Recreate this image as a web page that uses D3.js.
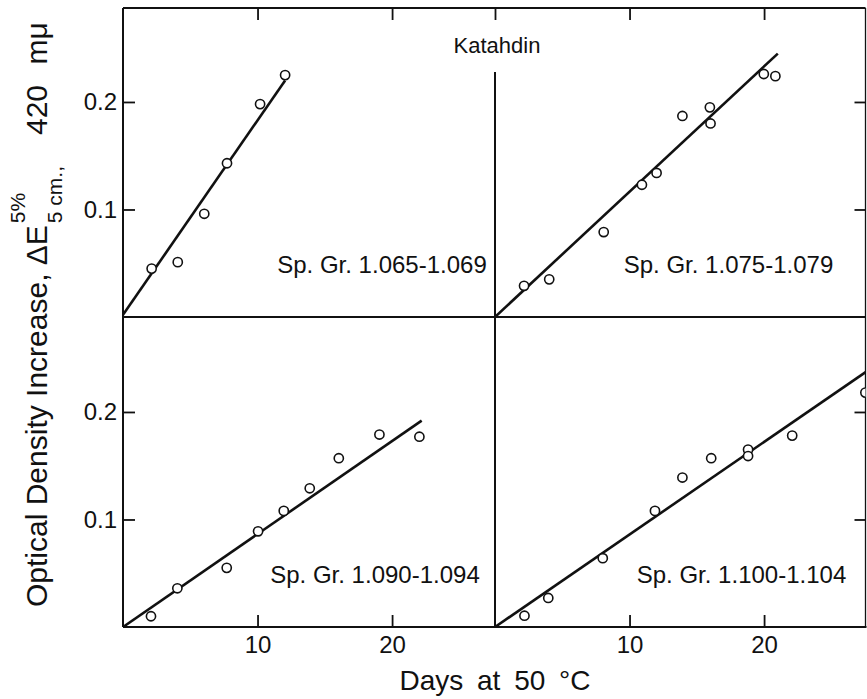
<!DOCTYPE html>
<html>
<head>
<meta charset="utf-8">
<script src="https://cdn.jsdelivr.net/npm/d3@7"></script>
<style>
  html, body { margin: 0; padding: 0; background: #fff; }
  svg { display: block; }
  text { font-family: "Liberation Sans", Arial, sans-serif; fill: #111; }
</style>
</head>
<body>
<svg id="chart" width="867" height="699"></svg>
<script>
// ---- data (days at 50 °C, optical density increase) ----
const panelLabels = ["Sp. Gr. 1.065-1.069", "Sp. Gr. 1.075-1.079", "Sp. Gr. 1.090-1.094", "Sp. Gr. 1.100-1.104"];
const daysA = [2.13, 4.07, 6.04, 7.73, 10.19, 12.05];
const odA   = [0.045, 0.051, 0.096, 0.143, 0.198, 0.225];
const daysB = [2.16, 4.03, 8.08, 10.92, 12.01, 13.93, 15.97, 16.02, 19.98, 20.84];
const odB   = [0.029, 0.035, 0.079, 0.123, 0.134, 0.187, 0.195, 0.180, 0.226, 0.224];
const daysC = [2.08, 4.04, 7.71, 10.04, 11.95, 13.88, 16.04, 19.06, 22.03];
const odC   = [0.010, 0.036, 0.055, 0.089, 0.108, 0.129, 0.157, 0.179, 0.177];
const daysD = [2.19, 3.96, 8.01, 11.89, 13.93, 16.07, 18.81, 18.81, 22.09, 27.53];
const odD   = [0.0105, 0.027, 0.064, 0.108, 0.139, 0.157, 0.165, 0.159, 0.178, 0.218];
// fitted straight lines: [start day, start OD], [end day, end OD]
const fitA = [[0, 0.002], [12.05, 0.220]];
const fitB = [[0, 0.0], [21.02, 0.245]];
const fitC = [[0, 0.0], [22.2, 0.192]];
const fitD = [[0, 0.0], [27.6, 0.2375]];
const xTicks = [10, 20];
const yTicks = [0.1, 0.2];
const title = "Katahdin";
const xTitle = "Days at 50 °C";

// ---- layout ----
const L = 123, M = 495, R = 865.5, T = 8, H = 317, B = 627;
const svg = d3.select("#chart");

const xLeft  = d3.scaleLinear().domain([0, 27.65]).range([L, M]);
const xRight = d3.scaleLinear().domain([0, 27.65]).range([M, M + 372]);
const yTop = d3.scaleLinear().domain([0, 0.2874]).range([H, T]);
const yBot = d3.scaleLinear().domain([0, 0.2874]).range([B, H + 1]);

const panels = [
  { x: xLeft,  y: yTop, days: daysA, od: odA, fit: fitA, label: panelLabels[0], lx: 382,   ly: 273 },
  { x: xRight, y: yTop, days: daysB, od: odB, fit: fitB, label: panelLabels[1], lx: 728.5, ly: 273 },
  { x: xLeft,  y: yBot, days: daysC, od: odC, fit: fitC, label: panelLabels[2], lx: 375,   ly: 583 },
  { x: xRight, y: yBot, days: daysD, od: odD, fit: fitD, label: panelLabels[3], lx: 741.5, ly: 583 }
];

const defs = svg.append("defs");
panels.forEach((p, i) => {
  const [x0, x1] = [p.x.range()[0], Math.min(p.x.range()[1], R)];
  const [y1, y0] = p.y.range();
  defs.append("clipPath").attr("id", "clip" + i)
    .append("rect").attr("x", x0).attr("y", y0 - 2).attr("width", x1 - x0).attr("height", y1 - y0 + 2);
});

// ---- frame ----
const frame = svg.append("g").attr("stroke", "#111").attr("fill", "none");
frame.append("line").attr("x1", L).attr("x2", L).attr("y1", T).attr("y2", B).attr("stroke-width", 2);
frame.append("line").attr("x1", L).attr("x2", R).attr("y1", T).attr("y2", T).attr("stroke-width", 2);
frame.append("line").attr("x1", L).attr("x2", R).attr("y1", H).attr("y2", H).attr("stroke-width", 2);
frame.append("line").attr("x1", L).attr("x2", R + 1).attr("y1", B).attr("y2", B).attr("stroke-width", 2);
frame.append("line").attr("x1", M).attr("x2", M).attr("y1", 72).attr("y2", B).attr("stroke-width", 2);
frame.append("line").attr("x1", R).attr("x2", R).attr("y1", T).attr("y2", B).attr("stroke-width", 1.3);

// ---- axes (ticks inward) ----
function styleAxis(g, fontSize) {
  g.select(".domain").remove();
  g.selectAll(".tick line").attr("stroke", "#111").attr("stroke-width", 1.8);
  g.selectAll(".tick text").attr("font-size", fontSize).attr("fill", "#111")
    .style("font-family", '"Liberation Sans", Arial, sans-serif');
}
[yTop, yBot].forEach(ys => {
  svg.append("g").attr("transform", `translate(${L},0)`)
    .call(d3.axisLeft(ys).tickValues(yTicks).tickSize(-12).tickPadding(6).tickFormat(d3.format(".1f")))
    .call(g => styleAxis(g, 24));
  svg.append("g").attr("transform", `translate(${R},0)`)
    .call(d3.axisRight(ys).tickValues(yTicks).tickSize(-11).tickFormat(""))
    .call(g => styleAxis(g, 24));
});
[xLeft, xRight].forEach(xs => {
  svg.append("g").attr("transform", `translate(0,${B})`)
    .call(d3.axisBottom(xs).tickValues(xTicks).tickSize(-12).tickPadding(9).tickFormat(d3.format("d")))
    .call(g => styleAxis(g, 24));
  svg.append("g").attr("transform", `translate(0,${T})`)
    .call(d3.axisTop(xs).tickValues(xTicks).tickSize(-12).tickFormat(""))
    .call(g => styleAxis(g, 24));
});
// tick at day 0 of right panels on top border
svg.append("g").attr("transform", `translate(0,${T})`)
  .call(d3.axisTop(xRight).tickValues([0]).tickSize(-12).tickFormat(""))
  .call(g => styleAxis(g, 24));

// ---- panels ----
panels.forEach((p, i) => {
  const g = svg.append("g").attr("clip-path", `url(#clip${i})`);
  g.append("path")
    .datum(p.fit)
    .attr("d", d3.line().x(d => p.x(d[0])).y(d => p.y(d[1])))
    .attr("fill", "none").attr("stroke", "#111").attr("stroke-width", 2.6);
  g.selectAll("circle")
    .data(p.days.map((d, k) => [d, p.od[k]]))
    .join("circle")
    .attr("cx", d => p.x(d[0])).attr("cy", d => p.y(d[1]))
    .attr("r", 4.6).attr("fill", "#fff").attr("stroke", "#111").attr("stroke-width", 1.6);
  svg.append("text").attr("x", p.lx).attr("y", p.ly)
    .attr("text-anchor", "middle").attr("font-size", 24).text(p.label);
});

// ---- titles ----
svg.append("text").attr("x", 497).attr("y", 53).attr("text-anchor", "middle")
  .attr("font-size", 22).text(title);
svg.append("text").attr("x", 495).attr("y", 690).attr("text-anchor", "middle")
  .attr("font-size", 28).attr("word-spacing", 6).text(xTitle);

const yt = svg.append("g").attr("transform", "translate(47,607) rotate(-90)");
const t1 = yt.append("text").attr("x", 0).attr("y", 0).attr("font-size", 30)
  .text("Optical Density Increase, \u0394E");
const w1 = t1.node().getComputedTextLength();
const sup = yt.append("text").attr("x", w1 + 2).attr("y", -22).attr("font-size", 21).text("5%");
const sub = yt.append("text").attr("x", w1 + 2).attr("y", 15).attr("font-size", 21).text("5 cm.,");
const w2 = Math.max(sup.node().getComputedTextLength(), sub.node().getComputedTextLength());
yt.append("text").attr("x", Math.max(w1 + 2 + w2 + 18, 472)).attr("y", 0).attr("font-size", 30)
  .attr("word-spacing", 12).text("420 m\u03BC");
</script>
</body>
</html>
